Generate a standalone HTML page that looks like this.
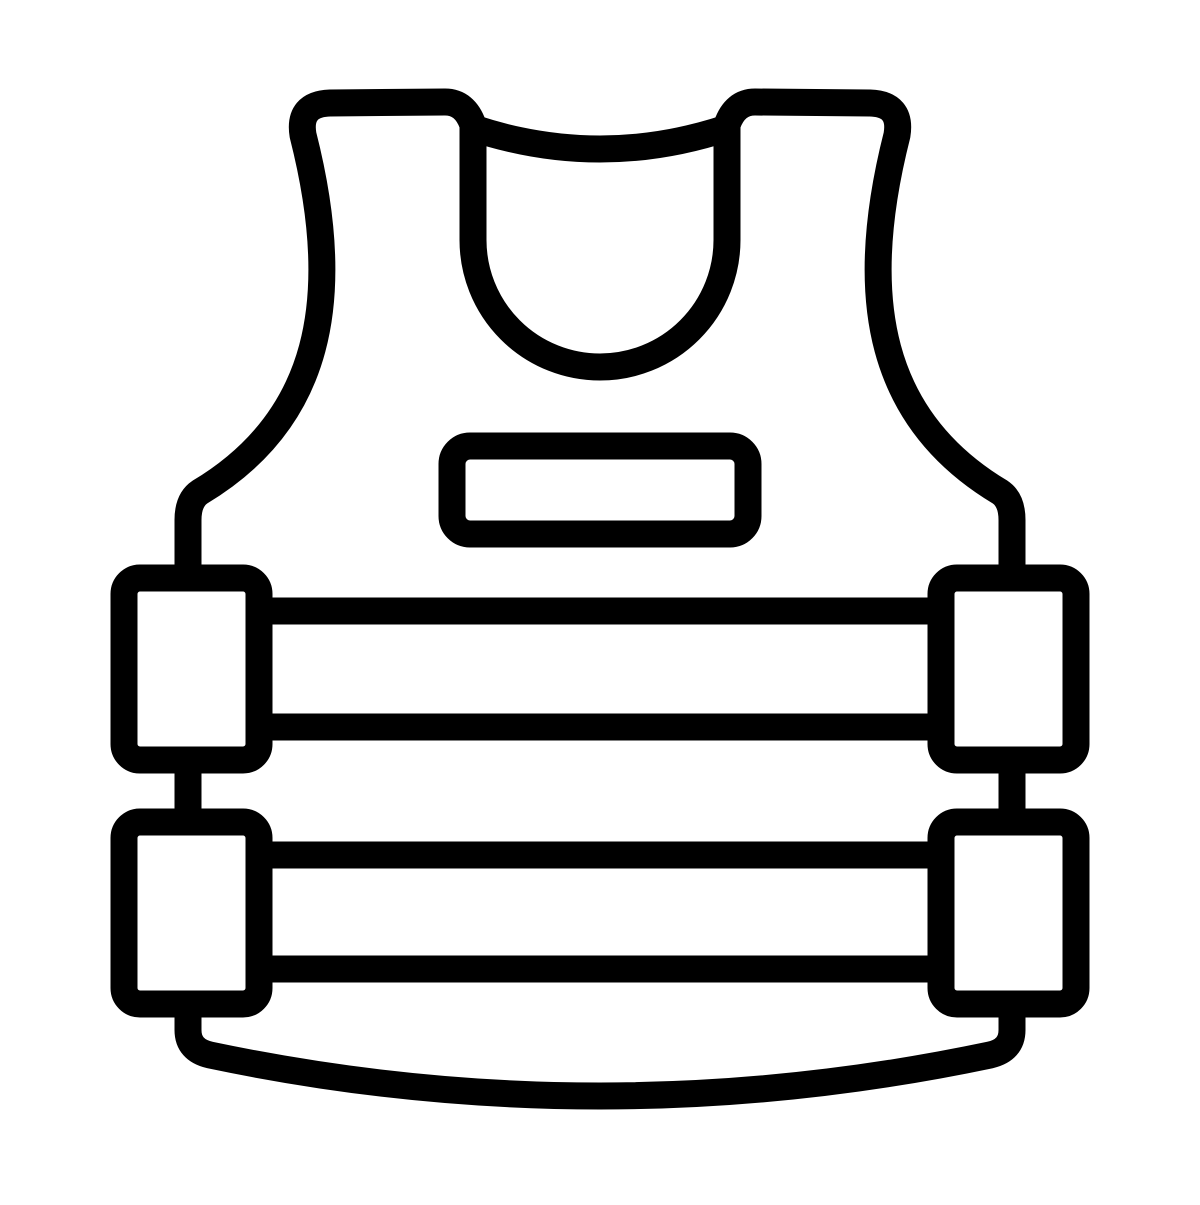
<!DOCTYPE html>
<html><head><style>html,body{margin:0;padding:0;background:#fff}</style></head><body>
<svg width="1200" height="1200" viewBox="0 0 1200 1200" xmlns="http://www.w3.org/2000/svg">
<g fill="none" stroke="#000" stroke-width="27" stroke-linejoin="round" stroke-linecap="round">
<path d="M 473 128 Q 600 170 727 128"/>
<path d="M 473 130 L 473 240 A 127 127 0 0 0 727 240 L 727 130"/>
<path d="M 473 125 Q 465 102 445 102 L 330 103 Q 298 104 303 135 C 345 300, 320 420, 200 492 Q 188 500 188 520 L 188 1030 Q 188 1050 210 1055 Q 600 1137 990 1055 Q 1012 1050 1012 1030 L 1012 520 Q 1012 500 1000 492 C 880 420, 855 300, 897 135 Q 902 104 870 103 L 755 102 Q 735 102 727 125"/>
<rect x="452" y="446" width="296" height="88" rx="18" fill="#fff"/>
<rect x="230" y="611" width="740" height="116" fill="#fff"/>
<rect x="230" y="855" width="740" height="114" fill="#fff"/>
<rect x="124" y="578" width="135" height="182" rx="16" fill="#fff"/>
<rect x="941" y="578" width="135" height="182" rx="16" fill="#fff"/>
<rect x="124" y="822" width="135" height="182" rx="16" fill="#fff"/>
<rect x="941" y="822" width="135" height="182" rx="16" fill="#fff"/>
</g>
</svg>
</body></html>
